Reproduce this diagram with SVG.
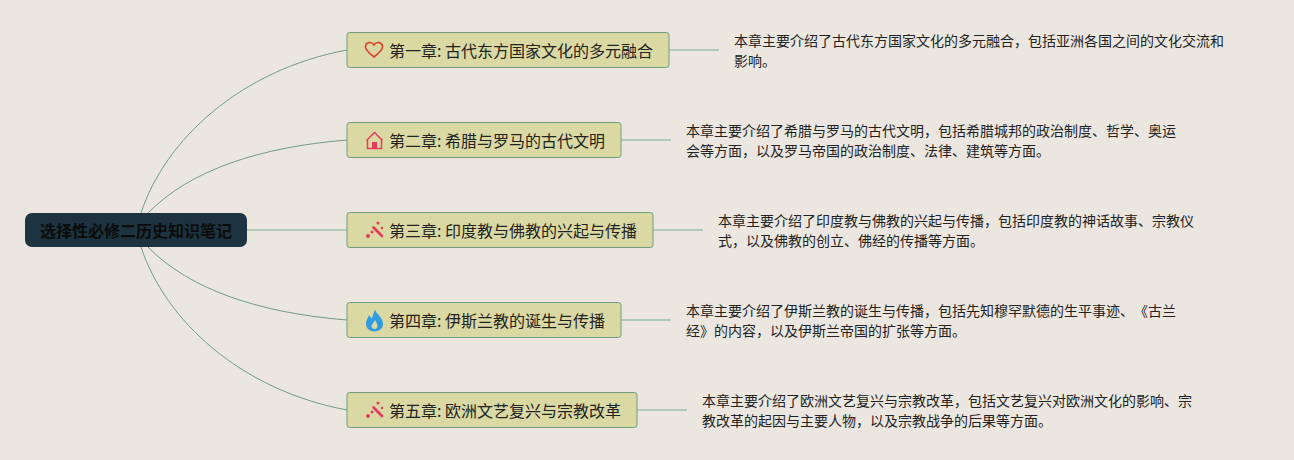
<svg xmlns="http://www.w3.org/2000/svg" width="1294" height="460" viewBox="0 0 1294 460">
<style>
text{font-family:"Noto Sans CJK SC","Noto Sans",sans-serif;text-spacing-trim:space-all}
.n{fill:#dbd9a3;stroke:#6f9d84;stroke-width:1}
.t{font-size:16px;fill:#222}
.d{font-size:14px;fill:#222}
.c{fill:none;stroke:#6f9d84;stroke-width:1}
.l{fill:none;stroke:#9dbfab;stroke-width:1.5}
</style>
<defs>
<g id="wand"><path d="M-1.500 -3.500L7 5" stroke="#e23b5d" stroke-width="2.800" stroke-linecap="round"/><circle cx="-7" cy="5" r="2" fill="#e23b5d"/><circle cx="-3" cy="1" r="1.500" fill="#e23b5d"/><circle cx="3" cy="-8" r="1.500" fill="#e23b5d"/><circle cx="7" cy="-3" r="1.200" fill="#e23b5d"/></g>
</defs>
<rect width="1294" height="460" fill="#ebe7e0"/>
<g id="connectors">
<path class="c" d="M141 213C165 140 240 70 347 50"/>
<path class="c" d="M148 213C190 170 260 147 347 140"/>
<path class="l" d="M246 230H347"/>
<path class="c" d="M148 247C190 290 260 313 347 320"/>
<path class="c" d="M141 247C165 320 240 390 347 410"/>
<path class="l" d="M669 50H719"/>
<path class="l" d="M621 140H671"/>
<path class="l" d="M653 230H703"/>
<path class="l" d="M621 320H671"/>
<path class="l" d="M637 410H687"/>
</g>
<g id="root"><rect x="25" y="213" width="222" height="34" rx="7" fill="#1d3340"/><text x="136" y="237" text-anchor="middle" font-size="16" font-weight="700" fill="#0b0b0b">选择性必修二历史知识笔记</text></g>
<g id="node1"><rect class="n" x="347" y="32.500" width="322" height="35" rx="2.500"/>
<path d="M374 57C369 53 365.500 50 365.500 47C365.500 42 371.500 41 374 45C376.500 41 382.500 42 382.500 47C382.500 50 379 53 374 57Z" fill="none" stroke="#d9472f" stroke-width="1.700"/>
<text class="t" x="389" y="57">第一章: 古代东方国家文化的多元融合</text></g>
<g id="node2"><rect class="n" x="347" y="122.500" width="274" height="35" rx="2.500"/>
<path d="M366.500 140.500L374.500 132.500L382.500 140.500M367.500 139.500V148.500H381.500V139.500" fill="none" stroke="#e23b5d" stroke-width="1.500"/><rect x="372" y="142" width="5" height="6.500" fill="#e23b5d"/>
<text class="t" x="389" y="147">第二章: 希腊与罗马的古代文明</text></g>
<g id="node3"><rect class="n" x="347" y="212.500" width="306" height="35" rx="2.500"/>
<use href="#wand" x="375" y="231"/>
<text class="t" x="389" y="237">第三章: 印度教与佛教的兴起与传播</text></g>
<g id="node4"><rect class="n" x="347" y="302.500" width="274" height="35" rx="2.500"/>
<path d="M375 309.500C376 314 383 317 383 324C383 328.500 379 331.500 374.500 331.500C370 331.500 366 328.500 366 324C366 320 368 318 369 315C370 317 371 318 372 318C373 315 374 312.500 375 309.500ZM374.500 329C372.500 329 371.500 327.500 371.500 326C371.500 324 374 322.500 375 320C376.500 322.500 377.500 324 377.500 326C377.500 327.500 376.500 329 374.500 329Z" fill="#2f9be0" fill-rule="evenodd"/>
<text class="t" x="389" y="327">第四章: 伊斯兰教的诞生与传播</text></g>
<g id="node5"><rect class="n" x="347" y="392.500" width="290" height="35" rx="2.500"/>
<use href="#wand" x="375" y="411"/>
<text class="t" x="389" y="417">第五章: 欧洲文艺复兴与宗教改革</text></g>
<g id="note1"><text class="d" x="734" y="46">本章主要介绍了古代东方国家文化的多元融合，包括亚洲各国之间的文化交流和</text><text class="d" x="734" y="66">影响。</text></g>
<g id="note2"><text class="d" x="686" y="136">本章主要介绍了希腊与罗马的古代文明，包括希腊城邦的政治制度、哲学、奥运</text><text class="d" x="686" y="156">会等方面，以及罗马帝国的政治制度、法律、建筑等方面。</text></g>
<g id="note3"><text class="d" x="718" y="226">本章主要介绍了印度教与佛教的兴起与传播，包括印度教的神话故事、宗教仪</text><text class="d" x="718" y="246">式，以及佛教的创立、佛经的传播等方面。</text></g>
<g id="note4"><text class="d" x="686" y="316">本章主要介绍了伊斯兰教的诞生与传播，包括先知穆罕默德的生平事迹、《古兰</text><text class="d" x="686" y="336">经》的内容，以及伊斯兰帝国的扩张等方面。</text></g>
<g id="note5"><text class="d" x="702" y="406">本章主要介绍了欧洲文艺复兴与宗教改革，包括文艺复兴对欧洲文化的影响、宗</text><text class="d" x="702" y="426">教改革的起因与主要人物，以及宗教战争的后果等方面。</text></g>
</svg>
